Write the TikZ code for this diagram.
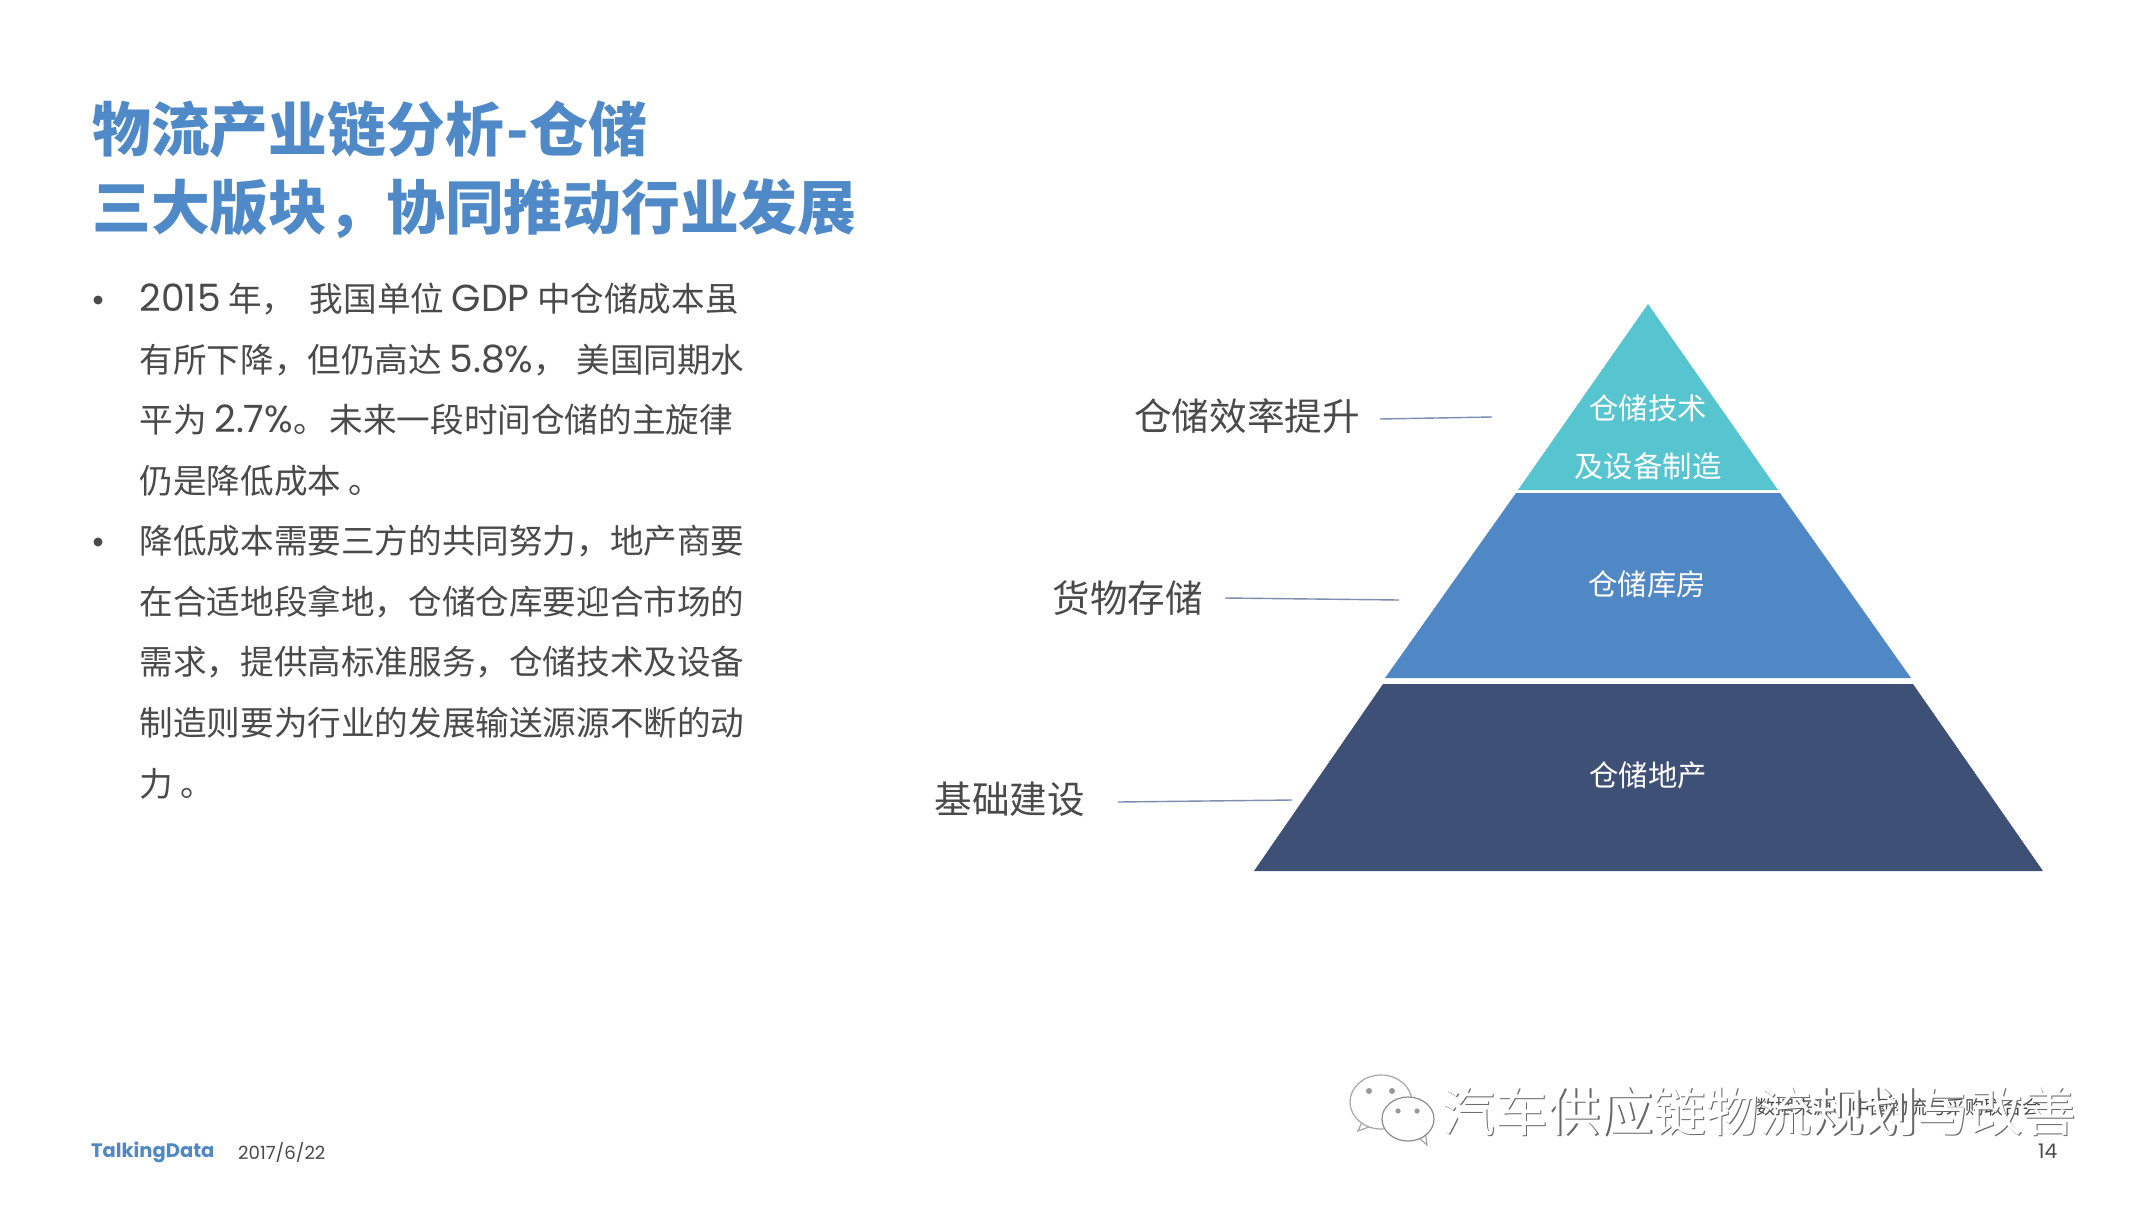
\documentclass[tikz,border=0pt]{standalone}
\usepackage{fontspec}
\setmainfont{Noto Sans CJK SC}
\newfontfamily\latinfont[Scale=1.12]{Poppins}
\definecolor{titleblue}{HTML}{4F89C7}
\definecolor{bodygrey}{HTML}{4A4A4A}
\definecolor{tealband}{HTML}{56C5D0}
\definecolor{blueband}{HTML}{5088C6}
\definecolor{navyband}{HTML}{3F5076}
\definecolor{linkblue}{HTML}{7C8DB0}
\tikzset{
  titletext/.style={anchor=west, inner sep=0pt, text=titleblue, font=\fontsize{58.8}{80}\selectfont\bfseries},
  bodytext/.style={anchor=north west, inner sep=0pt, align=left, text=bodygrey, font=\fontsize{33.6}{60.6}\selectfont},
  bulletdot/.style={circle, inner sep=0pt, minimum size=9pt, fill=bodygrey},
  sidelabel/.style={anchor=east, inner sep=0pt, text=bodygrey, font=\fontsize{37.6}{44}\selectfont},
  bandlabel/.style={inner sep=0pt, align=center, text=white, font=\fontsize{29.4}{58}\selectfont},
  leader/.style={linkblue, line width=1.4pt},
  footertext/.style={anchor=west, inner sep=0pt, text=bodygrey, font=\fontsize{16.2}{22}\selectfont\latinfont},
  wmback/.style={anchor=west, inner sep=0pt, text=black!60, font=\fontsize{52.8}{60}\selectfont},
  wmfront/.style={anchor=west, inner sep=0pt, text=white, font=\fontsize{52.8}{60}\selectfont},
  wmbubble/.style={draw=black!35, fill=white, line width=1.2pt},
}
\begin{document}
\begin{tikzpicture}[x=1pt, y=-1pt]
    \useasboundingbox (0,0) rectangle (2148,1208);
    \fill[white] (0,0) rectangle (2148,1208);

    % Title
    \node (title1) [titletext] at (92,129) {物流产业链分析\hspace{3pt}-仓储};
    \node (title2) [titletext] at (92,209) {三大版块，协同推动行业发展};

    % Body
    \node (dot1) [bulletdot] at (98,300) {};
    \node (para1) [bodytext] at (139.5,283) {{\latinfont 2015} 年，\hspace{7pt} 我国单位 {\latinfont GDP} 中仓储成本虽\\
      有所下降，但仍高达 {\latinfont 5.8\%}，\hspace{2pt} 美国同期水\\
      平为 {\latinfont 2.7\%}。\hspace{3pt}未来一段时间仓储的主旋律\\
      仍是降低成本 。};
    \node (dot2) [bulletdot] at (98,542) {};
    \node (para2) [bodytext] at (139.5,525) {降低成本需要三方的共同努力，地产商要\\
      在合适地段拿地，仓储仓库要迎合市场的\\
      需求，提供高标准服务，仓储技术及设备\\
      制造则要为行业的发展输送源源不断的动\\
      力 。};

    % Pyramid
    \fill[tealband] (1648,304) -- (1778,490) -- (1518,490) -- cycle;
    \fill[blueband] (1516,493) -- (1780,493) -- (1911,678) -- (1385,678) -- cycle;
    \fill[navyband] (1383,684) -- (1913,684) -- (2043,871) -- (1254,871) -- cycle;
    \node (tech) [bandlabel] at (1648,437) {仓储技术\\及设备制造};
    \node (store) [bandlabel] at (1647,584) {仓储库房};
    \node (land) [bandlabel] at (1648,775) {仓储地产};

    % Labels
    \node (effi) [sidelabel] at (1360,416) {仓储效率提升};
    \node (goods) [sidelabel] at (1203,598) {货物存储};
    \node (base) [sidelabel] at (1085,799) {基础建设};
    \coordinate (effiend) at (1492,417);
    \coordinate (goodsend) at (1399,600);
    \coordinate (baseend) at (1292,800);
    \draw [leader] ([xshift=20pt,yshift=-3pt]effi.east) -- (effiend);
    \draw [leader] ([xshift=22pt]goods.east) -- (goodsend);
    \draw [leader] ([xshift=33pt,yshift=-3pt]base.east) -- (baseend);

    % Footer
    \node (logo) [anchor=west, inner sep=0pt, text=blueband, font=\fontsize{17.4}{22}\selectfont\bfseries\latinfont] at (91,1152) {TalkingData};
    \node (date) [footertext] at (238,1152) {2017/6/22};
    \node (page) [footertext, font=\fontsize{18}{22}\selectfont\latinfont] at (2038,1151) {14};

    % Watermark
    \node (source) [anchor=west, inner sep=0pt, text=bodygrey, font=\fontsize{19}{22}\selectfont] at (1756,1107) {数据来源：中国物流与采购联合会};
    \node (wmshade) [wmback] at (1443.5,1112.5) {汽车供应链物流规划与改善};
    \node (wmtext) [wmfront] at (1442,1111) {汽车供应链物流规划与改善};
    \draw [wmbubble] (1362,1122) -- (1358,1131) -- (1374,1125) -- cycle;
    \draw [wmbubble] (1381,1102) ellipse [x radius=31, y radius=27];
    \draw [wmbubble] (1418,1137) -- (1427,1145) -- (1425,1130) -- cycle;
    \draw [wmbubble, draw=black!45] (1408,1119) ellipse [x radius=26, y radius=22];
    \fill[black!40] (1369,1091) circle [radius=3] (1392,1091) circle [radius=3] (1398,1111) circle [radius=2.6] (1417,1111) circle [radius=2.6];
\end{tikzpicture}
\end{document}
